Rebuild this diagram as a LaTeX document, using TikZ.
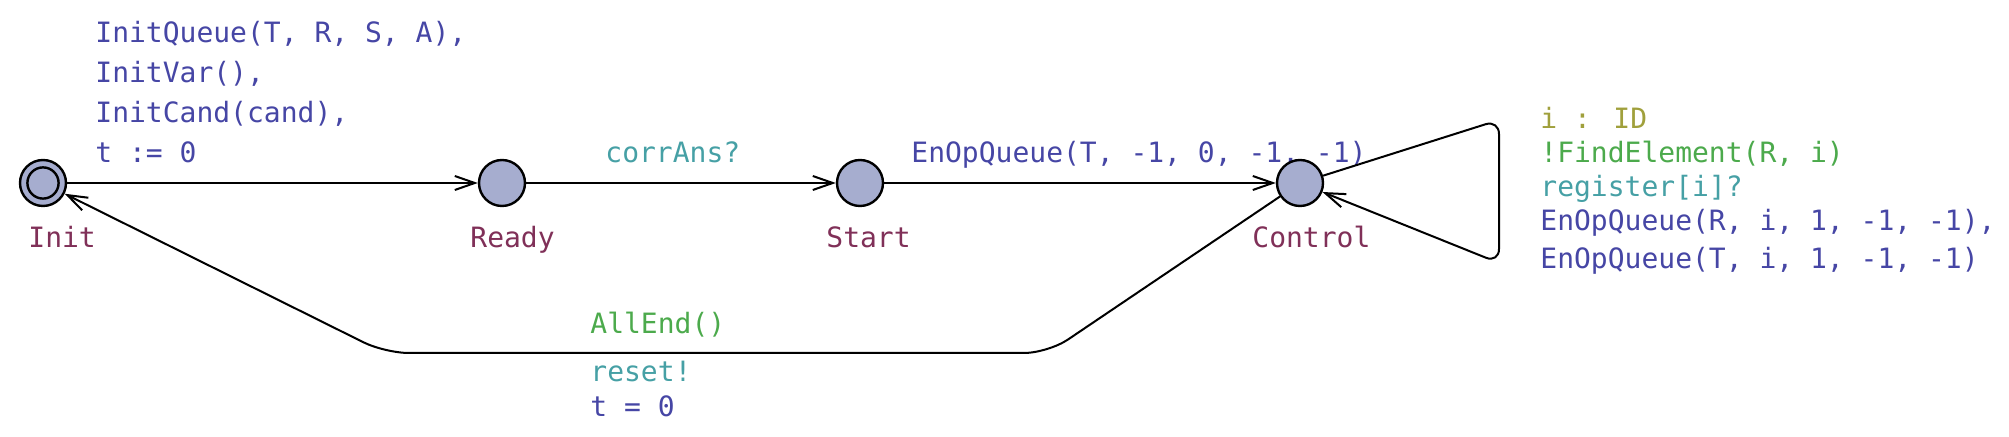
\documentclass[tikz,border=0pt]{standalone}
\usepackage{fontspec}
\usepackage{tikz}
\usetikzlibrary{arrows.meta,backgrounds}
\newfontfamily\uppaalfont{DejaVu Sans Mono}
\definecolor{locfill}{RGB}{166,173,207}
\definecolor{locname}{RGB}{128,48,88}
\definecolor{selcol}{RGB}{160,160,60}
\definecolor{guardcol}{RGB}{76,170,76}
\definecolor{synccol}{RGB}{70,160,165}
\definecolor{updcol}{RGB}{70,70,165}

\begin{document}
\begin{tikzpicture}[x=0.5pt, y=-0.5pt,
    loc/.style={circle, draw, fill=locfill, line width=1.2pt, minimum size=23pt, inner sep=0pt},
    edge/.style={line width=1pt, -{Straight Barb[length=10pt,width=7pt]}},
    lbl/.style={anchor=base west, inner sep=0pt, align=left, font=\uppaalfont\fontsize{14pt}{20pt}\selectfont},
    locname/.style={lbl, text=locname},
    select/.style={lbl, text=selcol},
    guard/.style={lbl, text=guardcol},
    sync/.style={lbl, text=synccol},
    update/.style={lbl, text=updcol}]
        \useasboundingbox (0,0) rectangle (2009,437);

        % Locations
        \node[loc] (init) at (43,183) {};
        \draw[line width=1.2pt] (init.center) circle[radius=7.8pt];
        \node[loc] (ready) at (502,183) {};
        \node[loc] (start) at (860,183) {};
        \node[loc] (control) at (1300,183) {};

        % Nails
        \coordinate (loopTop) at (1499,120);
        \coordinate (loopBot) at (1499,263);
        \coordinate (backR) at (1048,353);
        \coordinate (backL) at (385,353);

        \begin{scope}[on background layer]
            % Location names
            \node[locname] (initName) at (28,248) {Init};
            \node[locname] (readyName) at (470,248) {Ready};
            \node[locname] (startName) at (826,248) {Start};
            \node[locname] (controlName) at (1252,248) {Control};

            % Edge labels (multi-line ones sit on their last baseline)
            \node[update] (initUpd) at (95,163) {InitQueue(T, R, S, A),\\InitVar(),\\InitCand(cand),\\t := 0};
            \node[sync] (readySync) at (605,163) {corrAns?};
            \node[update] (startUpd) at (911,163) {EnOpQueue(T, -1, 0, -1, -1)};
            \node[select] (loopSel) at (1540,129) {i : ID};
            \node[guard] (loopGuard) at (1540,163) {!FindElement(R, i)};
            \node[sync] (loopSync) at (1540,197) {register[i]?};
            \node[update, font=\uppaalfont\fontsize{14pt}{19pt}\selectfont] (loopUpd) at (1540,269) {EnOpQueue(R, i, 1, -1, -1),\\EnOpQueue(T, i, 1, -1, -1)};
            \node[guard] (backGuard) at (590,334) {AllEnd()};
            \node[sync] (backSync) at (590,382) {reset!};
            \node[update] (backUpd) at (590,417) {t = 0};
        \end{scope}

        % Edges
        \draw[edge] (init) -- (ready);
        \draw[edge] (ready) -- (start);
        \draw[edge] (start) -- (control);
        \draw[edge, rounded corners=7pt] (control) -- (loopTop) -- (loopBot) -- (control);
        \draw[edge, rounded corners=12pt] (control) -- (backR) -- (backL) -- (init);
    \end{tikzpicture}
\end{document}
